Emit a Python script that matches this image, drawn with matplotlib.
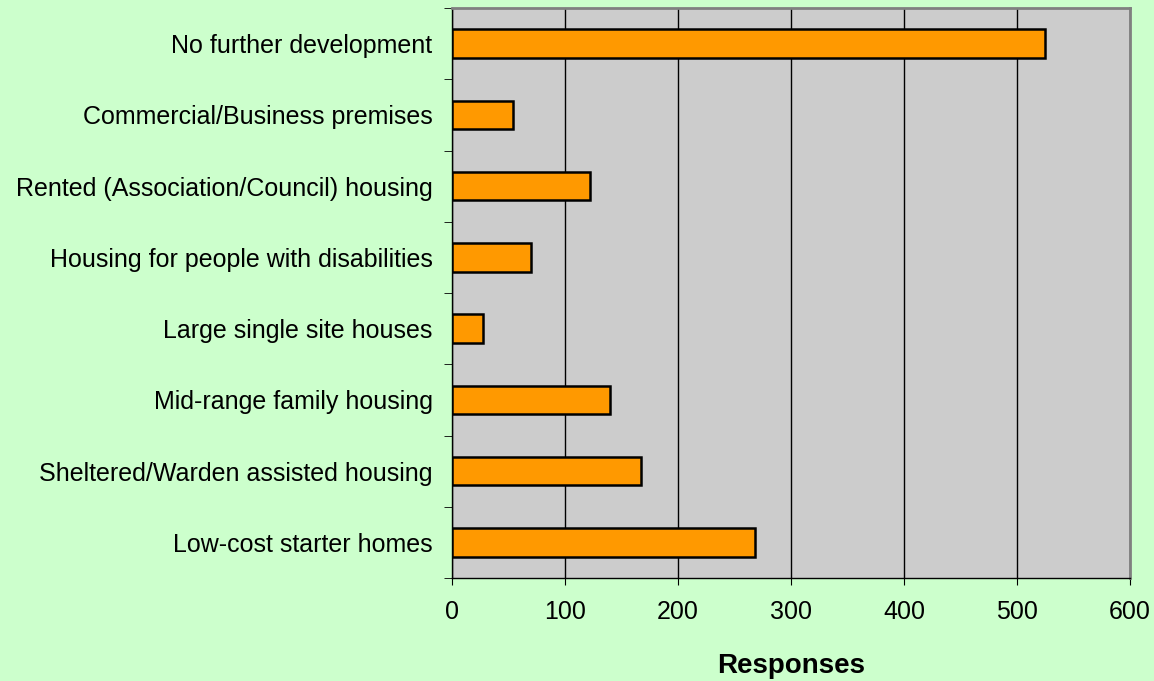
import matplotlib.pyplot as plt
import numpy as np

plt.rcParams['font.family'] = ['Liberation Sans', 'DejaVu Sans']

# Data (top to bottom as shown)
categories = ['No further development', 'Commercial/Business premises',
              'Rented (Association/Council) housing', 'Housing for people with disabilities',
              'Large single site houses', 'Mid-range family housing',
              'Sheltered/Warden assisted housing', 'Low-cost starter homes']
responses = [525, 54, 122, 70, 27, 140, 167, 268]

fig = plt.figure(figsize=(11.54, 6.81), dpi=100, facecolor='#CCFFCC')
ax = fig.add_axes([452 / 1154, 1 - 578 / 681, (1130 - 452) / 1154, (578 - 8) / 681])
ax.set_facecolor('#CCCCCC')

y = np.arange(len(categories))[::-1]
ax.barh(y, responses, height=0.4, color='#FF9900', edgecolor='black', linewidth=1.8, zorder=3)

ax.set_xlim(0, 600)
ax.set_ylim(-0.5, len(categories) - 0.5)
ax.set_xticks(range(0, 601, 100))
ax.tick_params(axis='x', labelsize=18, length=5, pad=11, color='black')

# category labels centred on bars, ticks on category boundaries
ax.set_yticks(y)
ax.set_yticklabels(categories, fontsize=18)
ax.tick_params(axis='y', length=0, pad=14)
ax.set_yticks(np.arange(-0.5, len(categories)), minor=True)
ax.tick_params(axis='y', which='minor', length=6, color='black')

ax.grid(axis='x', color='black', linewidth=1, zorder=0)
ax.set_axisbelow(True)

for side in ['top', 'right']:
    ax.spines[side].set_color('#808080')
    ax.spines[side].set_linewidth(2)
for side in ['left', 'bottom']:
    ax.spines[side].set_color('black')
    ax.spines[side].set_linewidth(1)

ax.set_xlabel('Responses', fontsize=20, fontweight='bold', labelpad=21)

fig.savefig('out.png', dpi=100, facecolor=fig.get_facecolor())
